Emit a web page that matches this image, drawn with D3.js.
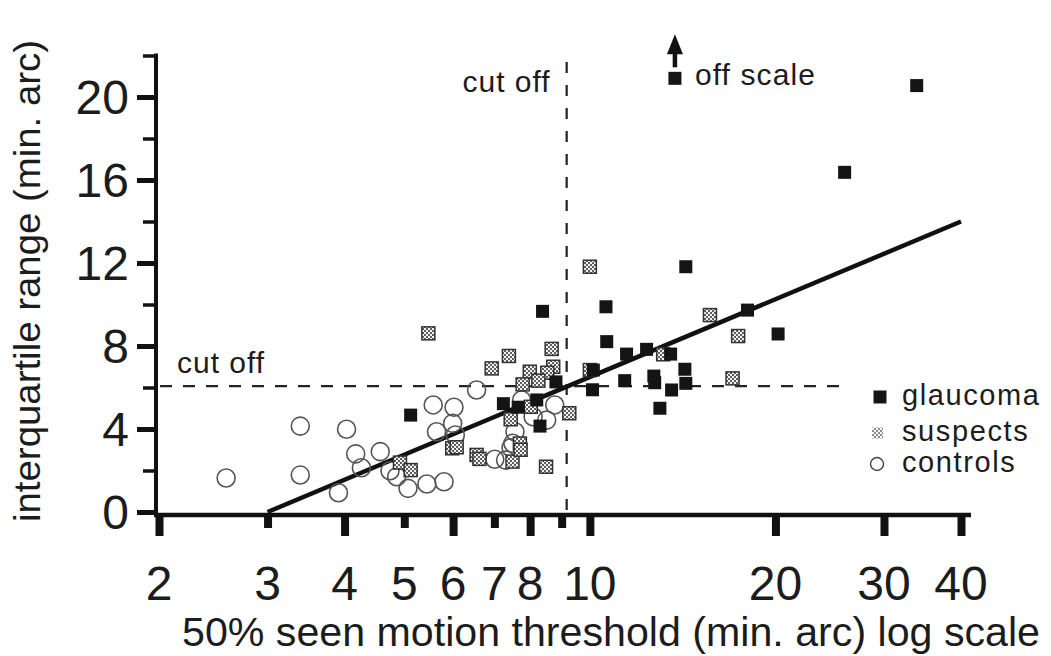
<!DOCTYPE html>
<html>
<head>
<meta charset="utf-8">
<script src="https://cdn.jsdelivr.net/npm/d3@7/dist/d3.min.js"></script>
<style>
  html, body { margin: 0; padding: 0; background: #fff; }
  svg { display: block; }
  text { font-family: "Liberation Sans", Arial, Helvetica, sans-serif; fill: #1c1c1c; }
</style>
</head>
<body>
<svg id="chart" width="1051" height="656"></svg>
<script>
// Motion threshold (min. arc, log axis) vs interquartile range (min. arc)
const glaucoma = [
  [5.12, 4.67], [7.24, 5.22], [7.65, 5.05], [8.20, 5.40], [8.30, 4.14],
  [8.38, 9.67], [8.81, 6.27], [10.13, 6.84], [10.10, 5.89], [10.62, 9.89],
  [10.65, 8.21], [11.47, 7.61], [12.36, 7.84], [13.52, 7.61], [14.26, 6.88],
  [14.31, 6.20], [11.39, 6.33], [12.70, 6.55], [12.74, 6.23], [13.57, 5.88],
  [12.99, 5.00], [14.31, 11.82], [18.02, 9.73], [20.2, 8.58], [25.9, 16.37],
  [33.9, 20.55]
];
const suspects = [
  [5.47, 8.61], [6.93, 6.92], [7.39, 7.52], [8.67, 7.86], [8.72, 7.00],
  [7.99, 6.76], [8.53, 6.71], [8.25, 6.33], [7.78, 6.15], [8.02, 5.07],
  [7.44, 4.47], [9.26, 4.76], [5.98, 3.07], [6.08, 3.12], [4.92, 2.38],
  [5.12, 2.02], [6.55, 2.75], [6.62, 2.56], [7.49, 2.43], [7.70, 3.30],
  [7.72, 3.00], [8.49, 2.18], [10.0, 6.84], [10.0, 11.82], [15.66, 9.49],
  [17.40, 8.48], [13.15, 7.60], [17.04, 6.44]
];
const controls = [
  [2.57, 1.64], [3.39, 4.14], [3.39, 1.78], [4.03, 3.99], [4.17, 2.80],
  [4.26, 2.13], [3.91, 0.93], [4.57, 2.91], [4.74, 1.99], [4.86, 1.70],
  [5.07, 1.14], [5.44, 1.35], [5.80, 1.46], [5.57, 5.16], [6.02, 5.05],
  [5.64, 3.87], [5.99, 4.27], [6.05, 3.71], [6.55, 5.88], [7.01, 2.54],
  [7.30, 2.50], [7.56, 3.87], [7.50, 3.31], [7.45, 3.10], [7.75, 5.40],
  [8.09, 4.59], [8.51, 4.43], [8.77, 5.16]
];
// glaucoma case beyond the top of the axis, shown with an arrow
const offScale = [[13.74, 20.9]];
// fitted regression (straight in log-x)
const regression = [[3, 0], [40, 14]];
const cutX = 9.17;
const cutY = 6.07;

const xMajorTicks = [2, 4, 6, 8, 10, 20, 30, 40];
const xMinorTicks = [3, 5, 7, 9];
const xTickLabels = [2, 3, 4, 5, 6, 7, 8, 10, 20, 30, 40];
const yMajorTicks = [0, 4, 8, 12, 16, 20];
const yMinorTicks = [2, 6, 10, 14, 18, 22];

const legendItems = ["glaucoma", "suspects", "controls"];

const svg = d3.select("#chart");

const x = d3.scaleLog().domain([2, 40]).range([159, 961]);
const y = d3.scaleLinear().domain([0, 20]).range([512, 97]);

const axisY = 515;   // vertical position of the x axis line
const axisX = 156;   // horizontal position of the y axis line

// checkered fill for suspects
const defs = svg.append("defs");
const pat = defs.append("pattern")
  .attr("id", "checker").attr("width", 4).attr("height", 4)
  .attr("patternUnits", "userSpaceOnUse");
pat.append("rect").attr("width", 4).attr("height", 4).attr("fill", "#5e5e5e");
pat.append("rect").attr("x", 0).attr("y", 0).attr("width", 2).attr("height", 2).attr("fill", "#f2f2f2");
pat.append("rect").attr("x", 2).attr("y", 2).attr("width", 2).attr("height", 2).attr("fill", "#f2f2f2");

// ---- axes ----
function styleAxis(g, width) {
  g.select(".domain").remove();
  g.selectAll(".tick line").attr("stroke", "#111").attr("stroke-width", width);
  g.selectAll(".tick text").remove();
}

svg.append("g").attr("transform", `translate(0,${axisY})`)
  .call(d3.axisBottom(x).tickValues(xMajorTicks).tickSize(21).tickSizeOuter(0))
  .call(g => styleAxis(g, 8));
svg.append("g").attr("transform", `translate(0,${axisY})`)
  .call(d3.axisBottom(x).tickValues(xMinorTicks).tickSize(13).tickSizeOuter(0))
  .call(g => styleAxis(g, 8));

svg.append("g").attr("transform", `translate(${axisX},0)`)
  .call(d3.axisLeft(y).tickValues(yMajorTicks).tickSize(19).tickSizeOuter(0))
  .call(g => styleAxis(g, 5));
svg.append("g").attr("transform", `translate(${axisX},0)`)
  .call(d3.axisLeft(y).tickValues(yMinorTicks).tickSize(13).tickSizeOuter(0))
  .call(g => styleAxis(g, 3.5));

// axis lines
svg.append("line")
  .attr("x1", axisX - 2).attr("x2", x(40) + 10)
  .attr("y1", axisY).attr("y2", axisY)
  .attr("stroke", "#111").attr("stroke-width", 4.5);
svg.append("line")
  .attr("x1", axisX).attr("x2", axisX)
  .attr("y1", y(22) - 2).attr("y2", axisY + 2)
  .attr("stroke", "#111").attr("stroke-width", 4);

// tick labels
svg.append("g").selectAll("text").data(xTickLabels).join("text")
  .attr("x", d => x(d)).attr("y", 600)
  .attr("text-anchor", "middle")
  .attr("font-size", 48)
  .text(d => d);

svg.append("g").selectAll("text").data(yMajorTicks).join("text")
  .attr("x", 129).attr("y", d => y(d) + 17)
  .attr("text-anchor", "end")
  .attr("font-size", 48)
  .text(d => d);

// axis titles
svg.append("text")
  .attr("x", 611).attr("y", 646)
  .attr("text-anchor", "middle")
  .attr("font-size", 41)
  .attr("textLength", 858).attr("lengthAdjust", "spacingAndGlyphs")
  .text("50% seen motion threshold (min. arc) log scale");

svg.append("text")
  .attr("transform", "translate(40,281) rotate(-90)")
  .attr("text-anchor", "middle")
  .attr("font-size", 37)
  .attr("textLength", 482).attr("lengthAdjust", "spacingAndGlyphs")
  .text("interquartile range (min. arc)");

// ---- cut-off lines ----
svg.append("line")
  .attr("x1", x(cutX)).attr("x2", x(cutX))
  .attr("y1", 62).attr("y2", y(0))
  .attr("stroke", "#222").attr("stroke-width", 2.2)
  .attr("stroke-dasharray", "11,12");
svg.append("line")
  .attr("x1", axisX + 4).attr("x2", x(26))
  .attr("y1", y(cutY)).attr("y2", y(cutY))
  .attr("stroke", "#222").attr("stroke-width", 2.2)
  .attr("stroke-dasharray", "12,11");

svg.append("text")
  .attr("x", x(cutX) - 16).attr("y", 92)
  .attr("text-anchor", "end").attr("font-size", 30)
  .attr("letter-spacing", 1)
  .text("cut off");
svg.append("text")
  .attr("x", 177).attr("y", 373)
  .attr("font-size", 30)
  .attr("letter-spacing", 1)
  .text("cut off");

// ---- regression line ----
svg.append("path")
  .datum(regression)
  .attr("d", d3.line().x(d => x(d[0])).y(d => y(d[1])))
  .attr("fill", "none").attr("stroke", "#111").attr("stroke-width", 4.5);

// ---- points ----
const sq = 13;
svg.append("g").selectAll("circle").data(controls).join("circle")
  .attr("cx", d => x(d[0])).attr("cy", d => y(d[1]))
  .attr("r", 9)
  .attr("fill", "none").attr("stroke", "#555").attr("stroke-width", 1.6);

svg.append("g").selectAll("rect").data(suspects).join("rect")
  .attr("x", d => x(d[0]) - sq / 2).attr("y", d => y(d[1]) - sq / 2)
  .attr("width", sq).attr("height", sq)
  .attr("fill", "url(#checker)").attr("stroke", "#333").attr("stroke-width", 1.5);

svg.append("g").selectAll("rect").data(glaucoma.concat(offScale)).join("rect")
  .attr("x", d => x(d[0]) - sq / 2).attr("y", d => y(d[1]) - sq / 2)
  .attr("width", sq).attr("height", sq)
  .attr("fill", "#141414");

// off-scale arrow and note
offScale.forEach(d => {
  const ax = x(d[0]), ay = y(d[1]);
  svg.append("line")
    .attr("x1", ax).attr("x2", ax)
    .attr("y1", ay - 11).attr("y2", ay - 28)
    .attr("stroke", "#111").attr("stroke-width", 4.5);
  svg.append("path")
    .attr("d", `M${ax - 8},${ay - 24} L${ax},${ay - 44} L${ax + 8},${ay - 24} Z`)
    .attr("fill", "#111");
  svg.append("text")
    .attr("x", ax + 20).attr("y", ay + 7)
    .attr("font-size", 30)
    .attr("letter-spacing", 1.1)
    .text("off scale");
});

// ---- legend ----
const legend = svg.append("g").attr("transform", "translate(880,0)");
const legendY = [397, 433, 464];
legendItems.forEach((name, i) => {
  const ly = legendY[i];
  if (name === "glaucoma") {
    legend.append("rect").attr("x", -6.5).attr("y", ly - 6.5)
      .attr("width", 13).attr("height", 13).attr("fill", "#141414");
  } else if (name === "suspects") {
    legend.append("rect").attr("x", -8).attr("y", ly - 5.5)
      .attr("width", 11).attr("height", 11).attr("fill", "url(#checker)").attr("opacity", 0.7);
  } else {
    legend.append("circle").attr("cx", -3).attr("cy", ly)
      .attr("r", 6.5).attr("fill", "none").attr("stroke", "#444").attr("stroke-width", 1.4);
  }
  legend.append("text")
    .attr("x", 22).attr("y", ly + 8)
    .attr("font-size", 29)
    .attr("letter-spacing", 1.6)
    .text(name);
});
</script>
</body>
</html>
